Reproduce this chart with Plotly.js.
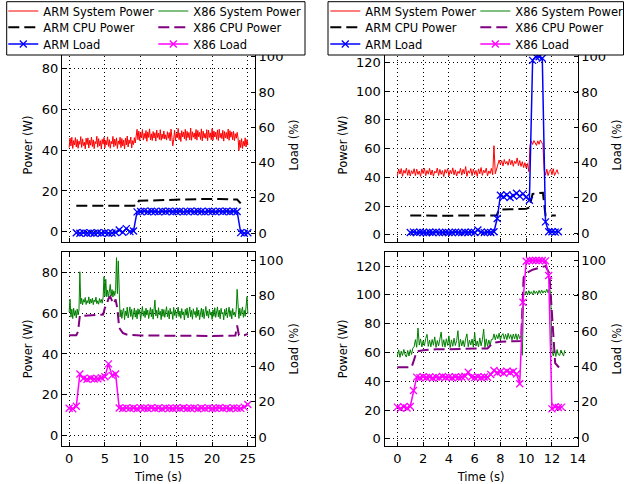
<!DOCTYPE html>
<html><head><meta charset="utf-8">
<script src="https://cdn.plot.ly/plotly-3.0.1.min.js"></script>
<style>html,body{margin:0;padding:0;background:#fff}</style>
</head><body>
<div id="chart" style="width:624px;height:484px"></div>
<script>
// ---------------- DATA ----------------
// Left column run (about 25 s). System power sampled every 0.125 s from t=0.
const dtPowA = 0.125;
const armSysA = [41.2,45.9,42.0,46.3,40.8,44.7,42.5,46.1,41.5,45.2,
 40.9,44.4,42.8,46.6,41.3,45.5,42.2,43.9,40.6,45.8,
 42.7,46.0,41.0,44.9,42.4,46.4,41.7,45.0,40.7,44.2,
 43.1,46.8,41.4,45.6,42.1,44.6,40.5,45.3,42.9,46.2,
 41.1,44.8,42.6,46.5,41.8,45.1,40.9,44.3,43.0,46.7,
 41.6,45.4,42.3,46.0,40.8,44.5,42.8,46.3,41.2,45.7,
 42.0,44.9,40.6,45.9,42.5,46.9,41.5,45.0,43.2,46.4,
 41.0,44.6,42.7,46.1,43.5,47.2,
 50.2,
 45.1,49.3,44.6,48.7,46.0,50.1,44.9,48.2,45.7,49.6,
 44.3,48.9,46.2,50.4,45.0,48.0,44.7,49.1,45.9,48.5,
 44.4,49.8,46.1,48.3,45.2,50.0,44.8,47.9,45.6,49.4,
 45.4,47.5,44.9,49.0,45.8,48.6,44.5,50.3,46.3,42.1,
 45.3,49.7,44.6,48.1,46.0,50.6,45.1,48.4,44.2,49.5,
 46.4,48.9,45.5,50.2,44.7,49.2,46.1,48.6,45.0,50.8,
 44.8,49.0,46.3,48.4,45.4,50.1,44.9,49.6,46.5,48.7,
 45.2,50.4,44.5,49.3,46.0,48.2,45.7,50.0,44.6,49.8,
 46.2,48.5,45.1,50.5,44.9,49.4,46.4,48.8,45.3,49.9,
 44.7,50.2,46.1,48.3,45.6,49.7,44.4,49.1,46.0,48.6,
 45.5,50.3,44.8,49.5,46.3,48.9,45.0,49.2,44.6,48.0,
 45.8,48.7,46.0,
 39.8,
 44.9,41.2,45.6,40.8,44.3,42.0,46.0,41.5,45.2,42.6];
const x86SysA = [60.5,66.8,58.0,61.9,57.3,62.4,58.8,61.2,57.6,62.0,59.1,61.5,
 80.2,
 64.5,67.2,64.0,66.6,65.3,67.6,64.2,66.1,65.0,67.9,64.4,66.8,64.9,67.3,64.1,66.4,65.5,67.8,64.6,66.0,64.3,67.1,65.2,66.7,64.8,67.5,
 77.8,68.2,76.5,
 68.0,71.2,67.6,70.4,74.0,68.3,71.5,67.8,70.9,68.6,71.0,
 87.1,69.5,85.5,
 62.8,58.1,61.6,57.4,60.9,62.3,56.8,61.0,58.7,62.9,
 57.6,60.4,63.0,58.3,61.8,56.9,60.2,62.5,58.0,61.3,
 57.2,62.1,59.4,61.7,56.7,60.8,63.2,58.5,61.1,57.8,
 62.4,59.0,61.5,57.3,60.6,62.7,58.2,61.9,57.0,60.3,
 66.3,58.6,61.4,57.5,62.6,59.2,60.9,56.8,62.0,58.4,
 61.7,57.9,60.5,63.1,58.1,61.2,57.1,62.3,59.5,60.7,
 56.9,62.8,58.8,61.6,57.7,60.1,62.9,58.3,61.0,57.4,
 62.2,59.1,60.6,56.6,61.8,58.9,62.5,57.6,60.4,63.0,
 58.2,61.3,57.0,62.1,59.3,60.8,57.8,62.7,58.5,61.5,
 56.8,60.2,62.4,58.0,61.9,57.3,60.7,63.2,58.6,61.1,
 57.5,62.0,59.0,60.5,56.9,61.6,58.4,62.6,57.9,60.9,
 63.0,58.1,61.4,57.2,62.3,59.6,60.3,56.7,61.8,58.8,
 62.5,57.7,60.6,62.9,58.3,61.2,57.1,62.2,59.0,60.4,
 58.1,61.7,71.6,59.8,57.4,62.4,58.7,60.9,63.0,57.9,
 61.3,58.4,62.1,68.0,59.6];
const armCpuTA = [1.0,2,3,4,5,6,7,8,9,9.5,9.75,11,13,15,17,19,21,23,23.5,24.0];
const armCpuA  = [12.8,12.7,12.8,12.7,12.7,12.8,12.7,12.8,12.8,13.0,15.2,15.3,15.5,15.8,16.0,16.1,16.0,16.0,15.8,13.9];
const x86CpuTA = [0,0.5,1.0,1.25,1.5,2,3,4,4.75,5.0,5.25,5.5,5.75,6.0,6.25,6.5,6.75,7.0,7.5,8,10,12,14,16,18,20,22,23.25,23.5,23.75,24.5,25.0];
const x86CpuA  = [49.2,49.0,49.1,51.0,58.8,58.6,58.8,59.0,59.3,62.5,64.2,67.0,68.0,66.0,64.5,66.7,62.0,52.8,50.3,49.5,49.0,49.0,48.9,49.0,49.0,48.8,48.9,49.0,53.9,49.2,49.2,49.8];
// Load sampled every 0.5 s
const dtLoadA = 0.5;
const armLoadT0A = 1.0;
const armLoadA = [0.2,0.0,0.3,0.0,0.1,0.0,0.2,0.0,0.3,0.0,
 0.1,0.4,1.8,0.5,2.6,0.9,1.2,
 12.1,12.3,12.5,12.2,12.4,12.3,12.1,12.4,12.3,12.5,
 12.2,12.3,12.4,12.1,12.3,12.5,12.2,12.4,12.3,12.1,
 12.4,12.3,12.2,12.5,12.3,12.4,12.2,12.4,
 12.3,
 0.3,0.0,0.2];
const x86LoadT0A = 0.0;
const x86LoadA = [16.4,16.1,17.5,35.8,33.2,32.8,33.4,32.9,33.1,33.6,
 34.2,41.5,35.0,35.8,16.5,16.2,16.6,16.3,16.5,16.1,
 16.6,16.4,16.2,16.7,16.3,16.5,16.1,16.6,16.4,16.2,
 16.5,16.3,16.7,16.2,16.4,16.6,16.1,16.5,16.3,16.6,
 16.2,16.4,16.7,16.3,16.5,16.1,16.6,16.4,16.3,17.0,
 18.5];

// Right column run (about 13 s). System power sampled every 0.1 s from t=0.
const dtPowB = 0.1;
const armSysB = [41.0,45.8,42.3,46.1,40.7,44.9,42.8,46.4,41.4,45.3,
 40.9,44.6,42.5,46.0,41.2,45.7,42.0,44.4,40.6,45.9,
 42.6,46.3,41.1,44.8,42.2,46.2,41.6,45.1,40.8,44.3,
 43.0,46.5,41.3,45.5,42.1,44.7,40.5,45.4,42.9,46.0,
 41.0,44.9,42.4,46.6,41.7,45.2,40.9,44.2,42.7,46.3,
 41.5,45.6,42.3,47.5,40.7,44.6,42.8,46.1,41.2,45.8,
 42.0,44.8,40.6,45.9,42.5,46.8,41.4,45.0,43.1,46.4,
 41.0,44.5,42.6,46.2,41.8,
 62.0,
 42.5,45.8,
 48.2,52.0,49.0,51.6,47.9,52.4,49.3,51.1,48.4,52.8,48.8,51.9,47.7,51.4,49.5,53.5,48.1,51.7,47.6,50.9,46.8,50.2,46.5,49.6,
 44.0,
 62.4,65.1,62.9,65.6,63.3,62.2,65.4,63.0,66.0,63.8,62.7,
 44.6,41.5,45.7,41.2,44.2,45.5,41.8,46.0,41.3,44.0,45.3,42.2];
const x86SysB = [57.4,61.8,56.6,60.9,57.9,62.1,58.3,56.8,61.4,57.5,61.9,58.6,
 63.0,
 64.0,68.9,63.6,77.0,65.1,69.4,63.8,68.1,64.7,69.7,
 72.6,64.2,68.6,63.9,69.0,65.0,70.8,63.5,68.3,64.6,
 69.2,74.2,64.1,68.8,63.7,69.5,64.9,71.5,63.4,68.7,
 64.3,69.9,64.8,68.2,75.1,63.6,69.1,64.5,68.4,63.9,
 69.6,72.9,64.0,68.5,65.2,69.3,63.7,73.8,64.4,68.0,
 63.8,70.1,64.6,68.8,76.2,63.5,69.4,64.2,68.6,65.0,
 69.0,
 69.0,72.9,68.8,72.3,69.5,73.4,68.6,72.0,73.1,69.2,72.6,68.9,73.3,69.7,72.4,68.7,72.8,69.4,73.0,68.8,72.7,69.6,71.9,
 58.0,
 99.5,
 100.4,102.6,99.9,102.9,100.7,102.2,100.2,103.0,100.9,102.5,100.6,103.1,101.0,103.4,101.2,102.8,101.5,104.0,101.4,104.2,102.3,
 61.5,
 57.6,61.9,57.2,62.0,58.4,57.9,61.7,58.9,57.5,61.6];
const armCpuTB = [1.0,2,3,4,5,6,7,7.7,7.9,8.5,9,9.5,10.0,10.25,10.5,11.0,11.3,11.5,12.0,12.3];
const armCpuB  = [13.4,13.2,13.4,13.3,13.4,13.3,13.4,13.4,17.5,17.6,17.9,18.0,18.2,19.0,28.5,29.0,29.2,13.6,13.4,13.4];
const x86CpuTB = [0,0.5,1.1,1.3,1.5,2.0,3,4,5,6,7.0,7.4,8,9,9.6,9.8,10.0,10.5,11.0,11.5,11.8,12.0,12.25,12.6];
const x86CpuB  = [49.8,49.5,49.6,55.0,60.7,61.5,62.2,62.3,62.5,62.4,62.8,66.5,67.5,67.8,68.0,112.0,115.0,117.5,119.0,120.0,115.0,85.0,52.6,49.0];
// Load sampled every 0.25 s
const dtLoadB = 0.25;
const armLoadT0B = 1.0;
const armLoadB = [0.4,0.6,0.3,0.5,0.4,0.2,0.5,0.4,0.6,0.3,
 0.4,0.5,0.3,0.4,0.6,0.4,0.3,0.5,0.4,0.6,
 0.4,
 1.8,0.6,0.3,0.5,0.4,0.8,8.3,21.5,20.6,21.8,
 20.2,21.2,22.6,21.0,22.3,20.5,18.7,98.0,100.0,100.0,
 99.2,6.4,0.8,0.8,0.6,0.8];
const x86LoadT0B = 0.0;
const x86LoadB = [17.0,16.3,17.2,16.5,17.4,26.4,34.0,33.6,34.2,33.8,
 34.1,33.5,34.0,33.7,34.3,33.9,34.0,33.6,34.2,33.8,
 34.1,34.5,36.8,34.0,33.7,34.2,33.8,34.1,33.9,35.5,
 37.7,36.5,37.0,36.2,37.4,36.6,37.2,35.8,30.2,76.4,
 99.6,100.0,100.0,100.0,100.0,100.0,99.8,91.5,16.0,17.2,
 16.8,17.0];

const names = {armSys:'ARM System Power', armCpu:'ARM CPU Power', armLoad:'ARM Load',
               x86Sys:'X86 System Power', x86Cpu:'X86 CPU Power', x86Load:'X86 Load'};
const xTicksA = [0,5,10,15,20,25];
const xTicksB = [0,2,4,6,8,10,12,14];

// ---------------- LAYOUT ----------------
const W = 624, H = 484;
const FONT = 'DejaVu Sans';
const fx = v => v / W, fy = v => 1 - v / H;
const times = (arr, t0, dt) => arr.map((_, i) => +(t0 + i * dt).toFixed(3));

const colL = [fx(62), fx(255)], colR = [fx(384.5), fx(577.7)];
const rowT = [fy(242), fy(48)], rowB = [fy(446), fy(251.7)];

function sysTrace(x, y, color, name, xa, ya, leg) {
  return {x, y, xaxis: xa, yaxis: ya, type: 'scatter', mode: 'lines', name, legend: leg,
          line: {color, width: 1}, hoverinfo: 'skip'};
}
function cpuTrace(x, y, color, name, xa, ya, leg) {
  return {x, y, xaxis: xa, yaxis: ya, type: 'scatter', mode: 'lines', name, legend: leg,
          line: {color, width: 2, dash: '11px,5px'}, hoverinfo: 'skip'};
}
function loadTrace(x, y, color, name, xa, ya, leg) {
  return {x, y, xaxis: xa, yaxis: ya, type: 'scatter', mode: 'lines+markers', name, legend: leg,
          line: {color, width: 1.5},
          marker: {symbol: 'x-thin', size: 7, color, line: {color, width: 1.3}}, hoverinfo: 'skip'};
}

const data = [
  // top-left ARM (25 s)
  sysTrace(times(armSysA, 0, dtPowA), armSysA, '#ff0000', names.armSys, 'x', 'y', 'legend'),
  cpuTrace(armCpuTA, armCpuA, '#000000', names.armCpu, 'x', 'y', 'legend2'),
  loadTrace(times(armLoadA, armLoadT0A, dtLoadA), armLoadA, '#0000ff', names.armLoad, 'x', 'y2', 'legend3'),
  // bottom-left X86 (25 s)
  sysTrace(times(x86SysA, 0, dtPowA), x86SysA, '#008000', names.x86Sys, 'x3', 'y5', 'legend4'),
  cpuTrace(x86CpuTA, x86CpuA, '#800080', names.x86Cpu, 'x3', 'y5', 'legend5'),
  loadTrace(times(x86LoadA, x86LoadT0A, dtLoadA), x86LoadA, '#ff00ff', names.x86Load, 'x3', 'y6', 'legend6'),
  // top-right ARM (13 s)
  sysTrace(times(armSysB, 0, dtPowB), armSysB, '#ff0000', names.armSys, 'x2', 'y3', 'legend7'),
  cpuTrace(armCpuTB, armCpuB, '#000000', names.armCpu, 'x2', 'y3', 'legend8'),
  loadTrace(times(armLoadB, armLoadT0B, dtLoadB), armLoadB, '#0000ff', names.armLoad, 'x2', 'y4', 'legend9'),
  // bottom-right X86 (13 s)
  sysTrace(times(x86SysB, 0, dtPowB), x86SysB, '#008000', names.x86Sys, 'x4', 'y7', 'legend10'),
  cpuTrace(x86CpuTB, x86CpuB, '#800080', names.x86Cpu, 'x4', 'y7', 'legend11'),
  loadTrace(times(x86LoadB, x86LoadT0B, dtLoadB), x86LoadB, '#ff00ff', names.x86Load, 'x4', 'y8', 'legend12')
];

const tickFont = {family: FONT, size: 13, color: '#000'};
const titleFont = {family: FONT, size: 11.5, color: '#000'};
const common = {showline: true, linecolor: '#000', linewidth: 1, ticks: 'inside', ticklen: 4,
                tickwidth: 1, tickcolor: '#000', zeroline: false, tickfont: tickFont, fixedrange: true};
const grid = {showgrid: true, gridcolor: '#000', gridwidth: 1, griddash: '1px,3px'};

function xAxis(domain, range, ticks, anchor, labels) {
  return Object.assign({}, common, grid, {domain, range, tickvals: ticks, anchor, mirror: 'ticks',
    showticklabels: labels,
    title: labels ? {text: 'Time (s)', font: titleFont, standoff: 9.5} : {text: ''}});
}
function pAxis(domain, range, anchor) {
  return Object.assign({}, common, grid, {domain, range, dtick: 20, tick0: 0, anchor, mirror: false,
    title: {text: 'Power (W)', font: titleFont, standoff: 6}});
}
function lAxis(over, anchor) {
  return Object.assign({}, common, {overlaying: over, side: 'right', anchor, range: [-5, 105],
    dtick: 20, tick0: 0, showgrid: false,
    title: {text: 'Load (%)', font: titleFont, standoff: 7}});
}

// legend entries: two columns x three rows inside each box
const legColX = [3.3, 153.3, 325.3, 475.3];
const legRowY = [11, 27.3, 44];   // centre of each row, px from top
function leg(colIdx, rowIdx) {
  return {orientation: 'v', yanchor: 'top', xanchor: 'left',
    x: fx(legColX[colIdx]), y: 1 + (14.5 - legRowY[rowIdx]) / H,
    bgcolor: 'rgba(0,0,0,0)', borderwidth: 0, font: {family: FONT, size: 11.5, color: '#000'},
    itemclick: false, itemdoubleclick: false};
}

const layout = {
  width: W, height: H,
  margin: {l: 0, r: 0, t: 0, b: 0, autoexpand: false},
  paper_bgcolor: '#fff', plot_bgcolor: 'rgba(0,0,0,0)',
  font: {family: FONT, color: '#000'},
  showlegend: true,
  xaxis: xAxis(colL, [-1, 26], xTicksA, 'y', false),
  xaxis2: xAxis(colR, [-1, 14], xTicksB, 'y3', false),
  xaxis3: xAxis(colL, [-1, 26], xTicksA, 'y5', true),
  xaxis4: xAxis(colR, [-1, 14], xTicksB, 'y7', true),
  yaxis: pAxis(rowT, [-5, 90], 'x'),
  yaxis2: lAxis('y', 'x'),
  yaxis3: pAxis(rowT, [-5, 130], 'x2'),
  yaxis4: lAxis('y3', 'x2'),
  yaxis5: pAxis(rowB, [-5, 90], 'x3'),
  yaxis6: lAxis('y5', 'x3'),
  yaxis7: pAxis(rowB, [-5, 130], 'x4'),
  yaxis8: lAxis('y7', 'x4'),
  legend: leg(0, 0), legend2: leg(0, 1), legend3: leg(0, 2),
  legend4: leg(1, 0), legend5: leg(1, 1), legend6: leg(1, 2),
  legend7: leg(2, 0), legend8: leg(2, 1), legend9: leg(2, 2),
  legend10: leg(3, 0), legend11: leg(3, 1), legend12: leg(3, 2),
  shapes: [
    {type: 'rect', xref: 'paper', yref: 'paper', x0: fx(6.7), x1: fx(305), y0: fy(55), y1: fy(1.7),
     fillcolor: '#fff', line: {color: '#000', width: 1}, layer: 'above'},
    {type: 'rect', xref: 'paper', yref: 'paper', x0: fx(328), x1: fx(623.5), y0: fy(55), y1: fy(1.7),
     fillcolor: '#fff', line: {color: '#000', width: 1}, layer: 'above'}
  ]
};

Plotly.newPlot('chart', data, layout, {staticPlot: true, displayModeBar: false});
</script>
</body></html>
